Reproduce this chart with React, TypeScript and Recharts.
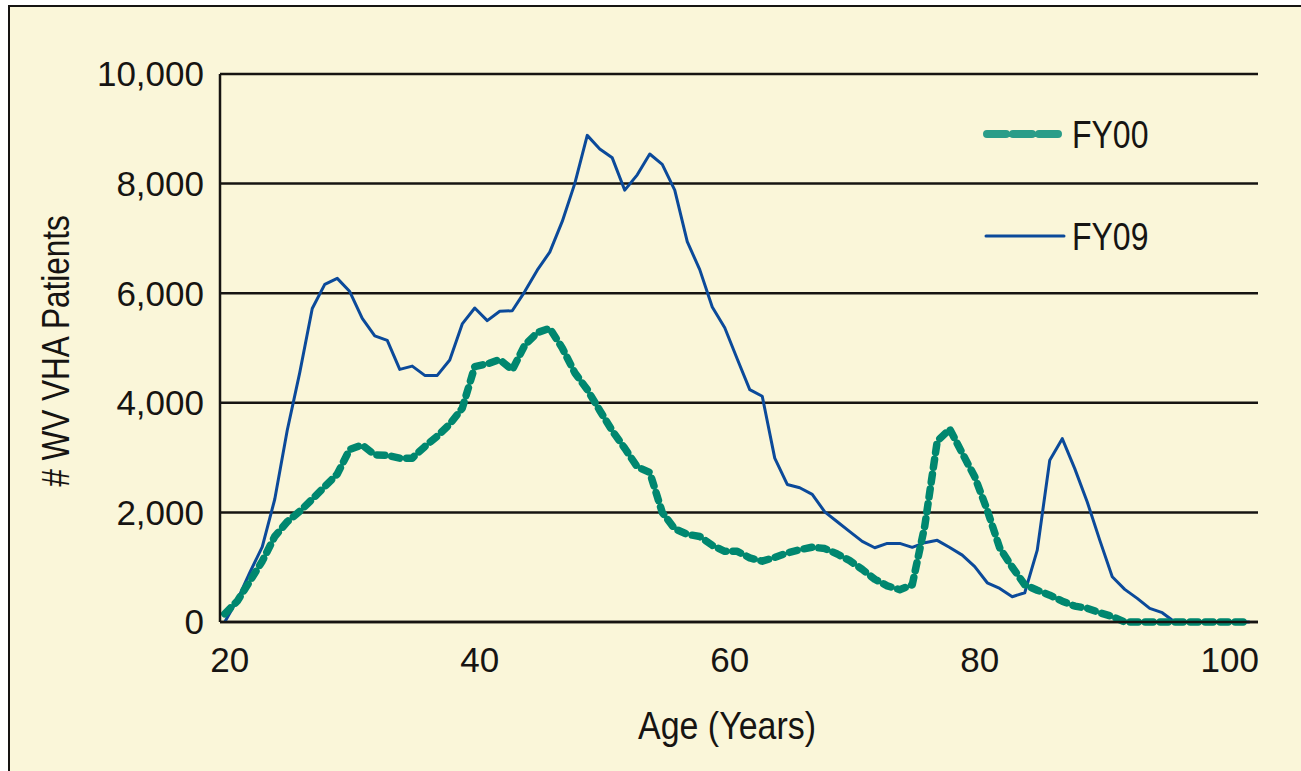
import React from 'react';
import { LineChart, Line, XAxis, YAxis, CartesianGrid, Legend } from 'recharts';

const ages = [
  20, 21, 22, 23, 24, 25, 26, 27, 28, 29, 30, 31, 32, 33, 34, 35, 36, 37, 38, 39,
  40, 41, 42, 43, 44, 45, 46, 47, 48, 49, 50, 51, 52, 53, 54, 55, 56, 57, 58, 59,
  60, 61, 62, 63, 64, 65, 66, 67, 68, 69, 70, 71, 72, 73, 74, 75, 76, 77, 78, 79,
  80, 81, 82, 83, 84, 85, 86, 87, 88, 89, 90, 91, 92, 93, 94, 95, 96, 97, 98, 99,
  100, 101, 102,
];

const fy00 = [
  150, 380, 740, 1110, 1560, 1830, 2020, 2240, 2470, 2700, 3150, 3230, 3050, 3040, 2990, 2990, 3200, 3390, 3610, 3900,
  4660, 4710, 4790, 4600, 5050, 5280, 5360, 5000, 4550, 4240, 3860, 3490, 3170, 2830, 2730, 2000, 1700, 1600, 1560, 1400,
  1290, 1290, 1170, 1110, 1180, 1260, 1320, 1366, 1340, 1240, 1120, 960, 780, 660, 590, 680, 1750, 3300, 3520, 3080,
  2650, 2040, 1350, 1000, 680, 580, 490, 380, 290, 250, 170, 100, 0, 0, 0, 0, 0, 0, 0, 0,
  0, 0, 0,
];

const fy09 = [
  0, 400, 900, 1370, 2240, 3500, 4550, 5720, 6160, 6270, 6030, 5540, 5220, 5140, 4610, 4670, 4500, 4500, 4780, 5440,
  5730, 5500, 5670, 5680, 6030, 6420, 6750, 7310, 8000, 8880, 8630, 8470, 7880, 8160, 8540, 8350, 7880, 6940, 6430, 5750,
  5370, 4800, 4240, 4120, 2990, 2510, 2450, 2330, 2010, 1830, 1650, 1470, 1355, 1434, 1434, 1363, 1447, 1490, 1360, 1220,
  1010, 716, 613, 461, 534, 1311, 2951, 3346, 2799, 2191, 1494, 825, 595, 431, 249, 170, 0, 0, 0, 0,
  0, 0, 0,
];

const xTicks = [20, 40, 60, 80, 100];
const yTicks = [0, 2000, 4000, 6000, 8000, 10000];

const seriesNames = { fy00: 'FY00', fy09: 'FY09' };
const TEAL = '#00876f';
const TEAL_LEGEND = '#2a9d89';
const BLUE = '#0b4a9a';
const INK = '#161412';
const CREAM = '#faf6d9';

const data = ages.map((age, i) => ({ age, fy00: fy00[i], fy09: fy09[i] }));

const REGULAR = "'Liberation Sans', Arial, Helvetica, sans-serif";

const legendText: React.CSSProperties = {
  display: 'inline-block', transform: 'scaleX(0.82)', transformOrigin: 'left center', marginLeft: 3,
};

const renderLegend = () => (
  <div style={{ fontFamily: REGULAR, fontSize: 39, color: INK, lineHeight: 1 }}>
    <div style={{ display: 'flex', alignItems: 'center', height: 60 }}>
      <svg width={90} height={14} style={{ display: 'block' }}>
        <line x1={8} y1={7} x2={79} y2={7} stroke={TEAL_LEGEND} strokeWidth={8}
          strokeDasharray="19 7" strokeLinecap="round" />
      </svg>
      <span style={legendText}>{seriesNames.fy00}</span>
    </div>
    <div style={{ display: 'flex', alignItems: 'center', height: 60, marginTop: 42 }}>
      <svg width={90} height={14} style={{ display: 'block' }}>
        <line x1={7} y1={7} x2={85} y2={7} stroke={BLUE} strokeWidth={3} strokeLinecap="round" />
      </svg>
      <span style={legendText}>{seriesNames.fy09}</span>
    </div>
  </div>
);

export default function App() {
  return (
    <div style={{ position: 'absolute', left: 0, top: 0, width: 1301, height: 771, background: '#ffffff', overflow: 'hidden' }}>
      <div style={{
        position: 'absolute', left: 8, top: 5, right: -10, bottom: -10, background: CREAM,
        borderLeft: `2px solid ${INK}`, borderTop: `2px solid ${INK}`,
      }} />
      <div style={{ position: 'absolute', left: 0, top: 0 }}>
        <LineChart width={1301} height={771} data={data}
          margin={{ top: 74, right: 43, bottom: 89, left: 20 }}>
          <CartesianGrid vertical={false} horizontal stroke={INK} strokeWidth={2.5} />
          <XAxis dataKey="age" type="number" domain={[19.62, 102.66]} ticks={xTicks} interval={0}
            height={60} tickSize={0} tickMargin={25} axisLine={{ stroke: INK, strokeWidth: 2.5 }} tickLine={false}
            tick={{ fontSize: 35, fill: INK, fontFamily: REGULAR, dx: 5 }} allowDataOverflow />
          <YAxis type="number" domain={[0, 10000]} ticks={yTicks} interval={0} width={200}
            tickSize={0} tickMargin={16} axisLine={{ stroke: INK, strokeWidth: 2.5 }} tickLine={false}
            tick={{ fontSize: 35, fill: INK, fontFamily: REGULAR }}
            tickFormatter={(v: number) => v.toLocaleString('en-US')} />
          <Legend layout="vertical" align="center" verticalAlign="middle" content={renderLegend}
            wrapperStyle={{ left: 979, top: 104, width: 220 }} />
          <Line dataKey="fy09" name={seriesNames.fy09} type="linear" stroke={BLUE} strokeWidth={3}
            dot={false} activeDot={false} isAnimationActive={false} strokeLinejoin="round" />
          <Line dataKey="fy00" name={seriesNames.fy00} type="linear" stroke={TEAL} strokeWidth={7.5}
            strokeDasharray="8 7" strokeLinecap="round" strokeLinejoin="round"
            dot={false} activeDot={false} isAnimationActive={false} />
        </LineChart>
      </div>
      <div style={{
        position: 'absolute', left: 727, top: 706, transform: 'translateX(-50%) scaleX(0.87)', whiteSpace: 'nowrap',
        fontFamily: REGULAR, fontSize: 39, lineHeight: 1, color: INK,
      }}>Age (Years)</div>
      <div style={{
        position: 'absolute', left: 56, top: 351, transform: 'translate(-50%, -50%) rotate(-90deg) scaleX(0.83)', whiteSpace: 'nowrap',
        fontFamily: REGULAR, fontSize: 38, lineHeight: 1, color: INK,
      }}># WV VHA Patients</div>
    </div>
  );
}
